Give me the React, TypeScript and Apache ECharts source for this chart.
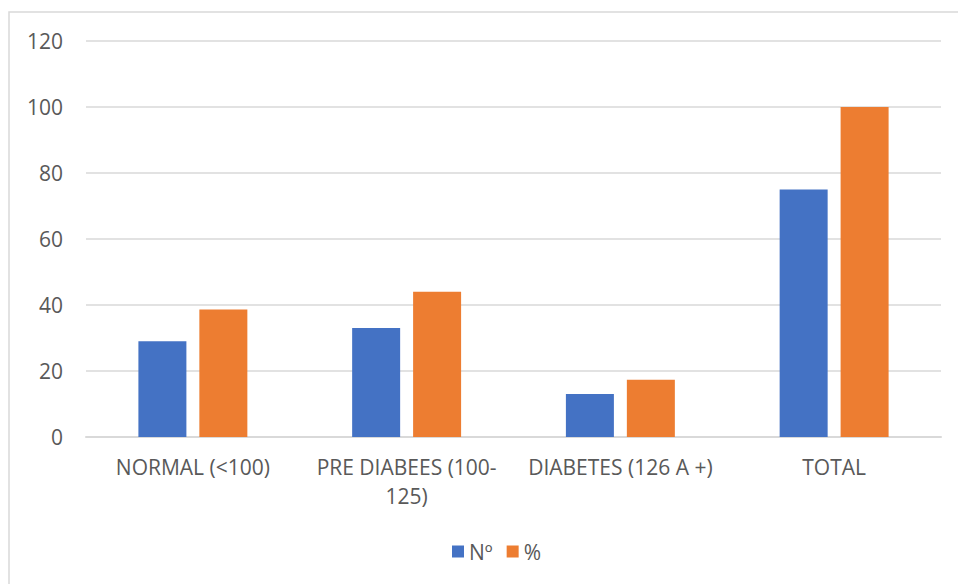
import React, { useEffect, useRef } from "react";
import * as echarts from "echarts";

const categories = ["NORMAL (<100)", "PRE DIABEES (100-125)", "DIABETES (126 A +)", "TOTAL"];
const countValues = [29, 33, 13, 75];
const percentValues = [38.67, 44, 17.33, 100];
const seriesNames = ["Nº", "%"];
const yTicks = { min: 0, max: 120, interval: 20 };

const FONT = "'Open Sans', sans-serif";
const TEXT = "#595959";

export default function App() {
  const ref = useRef<HTMLDivElement>(null);

  useEffect(() => {
    if (!ref.current) return;
    const chart = echarts.init(ref.current, undefined, { renderer: "svg" });
    chart.setOption({
      animation: false,
      backgroundColor: "#ffffff",
      textStyle: { fontFamily: FONT },
      graphic: [
        {
          type: "rect",
          shape: { x: 9, y: 12, width: 1200, height: 1000 },
          style: { fill: "none", stroke: "#d9d9d9", lineWidth: 1.5 },
          silent: true,
        },
      ],
      grid: { left: 86, right: 17, top: 41, bottom: 147, containLabel: false },
      legend: {
        data: seriesNames,
        left: 447,
        top: 536,
        itemWidth: 12,
        itemHeight: 12,
        itemGap: 14,
        icon: "rect",
        textStyle: { color: TEXT, fontSize: 21, fontFamily: FONT },
      },
      xAxis: {
        type: "category",
        data: categories,
        axisLine: { lineStyle: { color: "#d9d9d9", width: 2 } },
        axisTick: { show: false },
        axisLabel: {
          color: TEXT,
          fontSize: 21,
          fontFamily: FONT,
          lineHeight: 29,
          margin: 15,
          interval: 0,
          formatter: (v: string) => v.replace("(100-125)", "(100-\n125)"),
        },
      },
      yAxis: {
        type: "value",
        min: yTicks.min,
        max: yTicks.max,
        interval: yTicks.interval,
        axisLine: { show: false },
        axisTick: { show: false },
        splitLine: { lineStyle: { color: "#d9d9d9", width: 1.5 } },
        axisLabel: { color: TEXT, fontSize: 21, fontFamily: FONT, margin: 23 },
      },
      series: [
        {
          name: seriesNames[0],
          type: "bar",
          data: countValues,
          barWidth: 48,
          barGap: "27%",
          itemStyle: { color: "#4472c4" },
        },
        {
          name: seriesNames[1],
          type: "bar",
          data: percentValues,
          barWidth: 48,
          itemStyle: { color: "#ed7d31" },
        },
      ],
    });
    return () => chart.dispose();
  }, []);

  return (
    <div
      ref={ref}
      style={{ position: "fixed", left: 0, top: 0, width: 958, height: 584 }}
    />
  );
}
